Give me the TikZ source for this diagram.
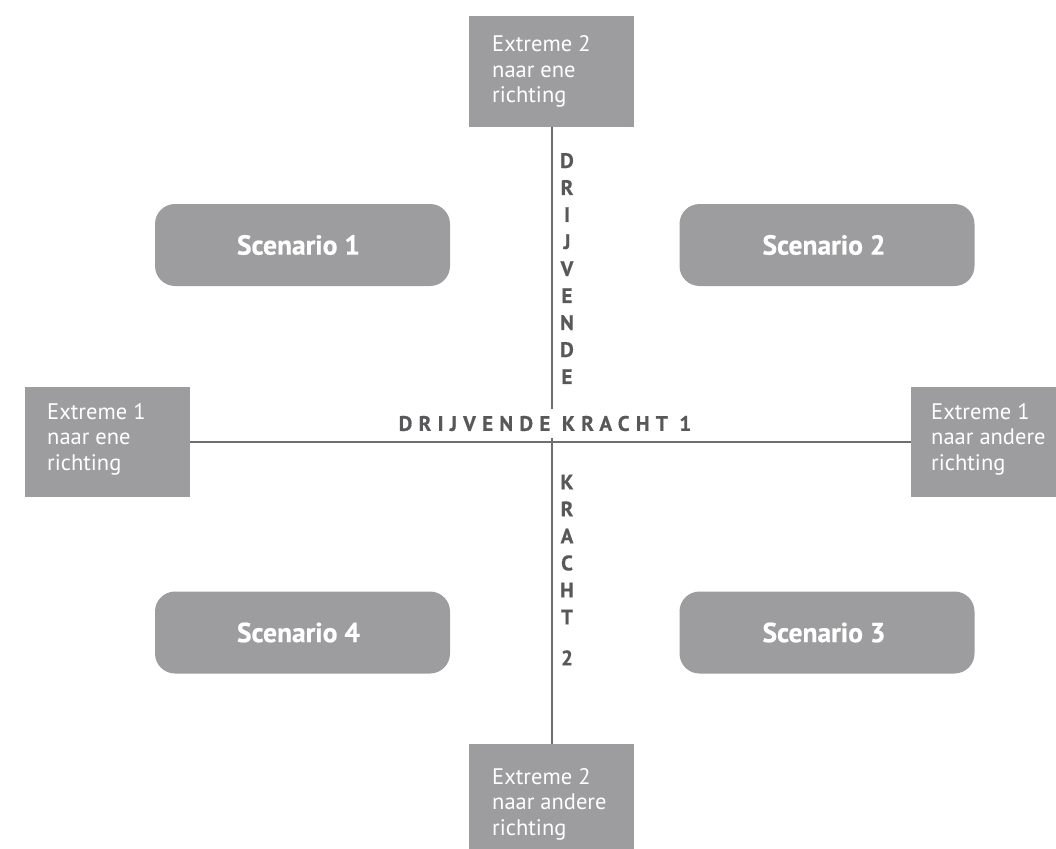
\documentclass[tikz,border=0pt]{standalone}
\usepackage{fontspec}
\setmainfont{PT Sans}
\newfontfamily\heavyfont[FakeBold=0.6]{PT Sans Bold}
\newfontfamily\trackedheavyfont[FakeBold=0.6,LetterSpace=30]{PT Sans Bold}
\definecolor{boxgray}{HTML}{9D9D9F}
\definecolor{axisgray}{HTML}{6E6E70}
\definecolor{labelgray}{HTML}{58585A}
\tikzset{
  extremebox/.style={fill=boxgray, draw=none, rectangle, inner sep=0pt, anchor=north west},
  extremetext/.style={text=white, align=left, inner sep=0pt, anchor=west,
    font=\fontsize{22.5}{25.5}\selectfont},
  scenariobox/.style={fill=boxgray, draw=none, rounded corners=20pt, inner sep=0pt,
    minimum width=295pt, minimum height=82pt},
  scenariotext/.style={text=white, inner sep=0pt,
    font=\fontsize{27.5}{30}\selectfont\heavyfont},
  axis/.style={draw=axisgray, line width=1.6pt},
  axislabel/.style={text=labelgray, fill=white, inner xsep=6pt, inner ysep=7pt,
    font=\fontsize{21}{24}\selectfont\trackedheavyfont},
  vertlabel/.style={text=labelgray, align=center, inner sep=0pt,
    font=\fontsize{21}{27}\selectfont\heavyfont}
}
\begin{document}
\begin{tikzpicture}[x=1pt,y=-1pt]
\useasboundingbox (0,0) rectangle (1056,848);

% extreme boxes at the ends of the two axes
\node[extremebox, minimum width=165pt, minimum height=111pt] (e2top) at (469,16) {};
\node[extremebox, minimum width=165pt, minimum height=112pt] (e2bot) at (469,744) {};
\node[extremebox, minimum width=165pt, minimum height=110pt] (e1left) at (25,387) {};
\node[extremebox, minimum width=145pt, minimum height=110pt] (e1right) at (911,387) {};

% axes
\draw[axis] (e2top.south) -- (e2bot.north);
\draw[axis] (e1left.east) -- (e1right.west);

% box texts
\node[extremetext] (e2toptxt) at ([xshift=23pt]e2top.west) {Extreme 2\\naar ene\\richting};
\node[extremetext] (e2bottxt) at ([xshift=23pt,yshift=-4pt]e2bot.west) {Extreme 2\\naar andere\\richting};
\node[extremetext] (e1lefttxt) at ([xshift=22pt,yshift=3pt]e1left.west) {Extreme 1\\naar ene\\richting};
\node[extremetext] (e1righttxt) at ([xshift=20pt,yshift=3pt]e1right.west) {Extreme 1\\naar andere\\richting};

% scenario boxes with their titles
\node[scenariobox] (s1) at (302.5,245) {};
\node[scenariobox] (s2) at (827,245) {};
\node[scenariobox] (s4) at (302.5,632.5) {};
\node[scenariobox] (s3) at (827,632.5) {};
\node[scenariotext] (s1txt) at ([xshift=-4pt]s1.center) {Scenario 1};
\node[scenariotext] (s2txt) at ([xshift=-3pt]s2.center) {Scenario 2};
\node[scenariotext] (s4txt) at ([xshift=-4pt]s4.center) {Scenario 4};
\node[scenariotext] (s3txt) at ([xshift=-3pt]s3.center) {Scenario 3};

% axis labels
\node[axislabel] (df1) at (545,423.5) {DRIJVENDE KRACHT 1};
\node[vertlabel] (df2a) at (567,268.5) {D\\R\\I\\J\\V\\E\\N\\D\\E};
\node[vertlabel] (df2b) at (567,570) {K\\R\\A\\C\\H\\T\\[14pt]2};
\end{tikzpicture}
\end{document}
